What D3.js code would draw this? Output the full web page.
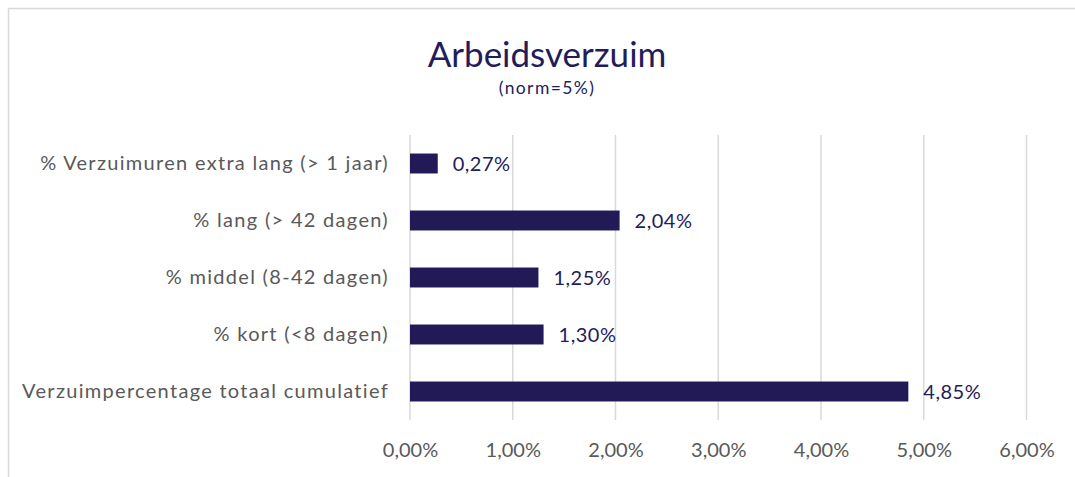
<!DOCTYPE html>
<html>
<head>
<meta charset="utf-8">
<script src="https://cdn.jsdelivr.net/npm/d3@7"></script>
<style>
  body { margin: 0; background: #fff; }
  svg { display: block; font-family: Lato, "Open Sans", sans-serif; }
</style>
</head>
<body>
<svg id="chart" width="1075" height="477"></svg>
<script>
// categorieen (van boven naar beneden)
var categories = [
  "% Verzuimuren extra lang (> 1 jaar)",
  "% lang (> 42 dagen)",
  "% middel (8-42 dagen)",
  "% kort (<8 dagen)",
  "Verzuimpercentage totaal cumulatief"
];
var values = [0.27, 2.04, 1.25, 1.30, 4.85];	// percentages
var tickValues = [0, 1, 2, 3, 4, 5, 6];
var title = "Arbeidsverzuim";
var subtitle = "(norm=5%)";

var barColor = "#211a57";
var textGray = "#595959";

var svg = d3.select("#chart");

// kader
svg.append("rect")
  .attr("x", 8.5).attr("y", 8.5)
  .attr("width", 1100).attr("height", 500)
  .attr("fill", "none")
  .attr("stroke", "#d9d9d9")
  .attr("stroke-width", 1.5);

var x = d3.scaleLinear().domain([0, 6]).range([410, 1026.5]);
var y = d3.scaleBand().domain(categories).range([135, 420])
  .paddingInner(0.65).paddingOuter(0.325);

// titel
svg.append("text")
  .attr("x", 547).attr("y", 67)
  .attr("text-anchor", "middle")
  .attr("font-size", 35)
  .attr("fill", "#231c5a")
  .text(title);
svg.append("text")
  .attr("x", 547).attr("y", 94)
  .attr("text-anchor", "middle")
  .attr("font-size", 17.5)
  .attr("letter-spacing", 1.4)
  .attr("fill", "#231c5a")
  .text(subtitle);

// rasterlijnen
svg.append("g")
  .selectAll("line")
  .data(tickValues)
  .enter().append("line")
  .attr("x1", function(d) { return x(d); })
  .attr("x2", function(d) { return x(d); })
  .attr("y1", 135).attr("y2", 420)
  .attr("stroke", "#d9d9d9")
  .attr("stroke-width", 1.5);

// x-as
var fmt = function(d) { return d3.format(".2f")(d).replace(".", ",") + "%"; };
var xAxis = svg.append("g")
  .attr("transform", "translate(0,420)")
  .call(d3.axisBottom(x).tickValues(tickValues).tickFormat(fmt).tickSize(0).tickPadding(23));
xAxis.select(".domain").remove();
xAxis.selectAll("text")
  .attr("font-size", 20)
  .attr("font-family", "Lato, sans-serif")
  .attr("fill", textGray);

// y-as labels
var yAxis = svg.append("g")
  .attr("transform", "translate(389,0)")
  .call(d3.axisLeft(y).tickSize(0).tickPadding(0));
yAxis.select(".domain").remove();
yAxis.selectAll("text")
  .attr("font-size", 20)
  .attr("letter-spacing", 1.3)
  .attr("font-family", "Lato, sans-serif")
  .attr("fill", textGray);

// balken
svg.append("g")
  .selectAll("rect")
  .data(values)
  .enter().append("rect")
  .attr("x", x(0))
  .attr("y", function(d, i) { return y(categories[i]); })
  .attr("width", function(d) { return x(d) - x(0); })
  .attr("height", y.bandwidth())
  .attr("fill", barColor);

// waardelabels
svg.append("g")
  .selectAll("text")
  .data(values)
  .enter().append("text")
  .attr("x", function(d) { return x(d) + 15; })
  .attr("y", function(d, i) { return y(categories[i]) + y.bandwidth() / 2; })
  .attr("dy", "0.36em")
  .attr("font-size", 20)
  .attr("letter-spacing", 0.5)
  .attr("fill", "#231c5a")
  .text(fmt);
</script>
</body>
</html>
